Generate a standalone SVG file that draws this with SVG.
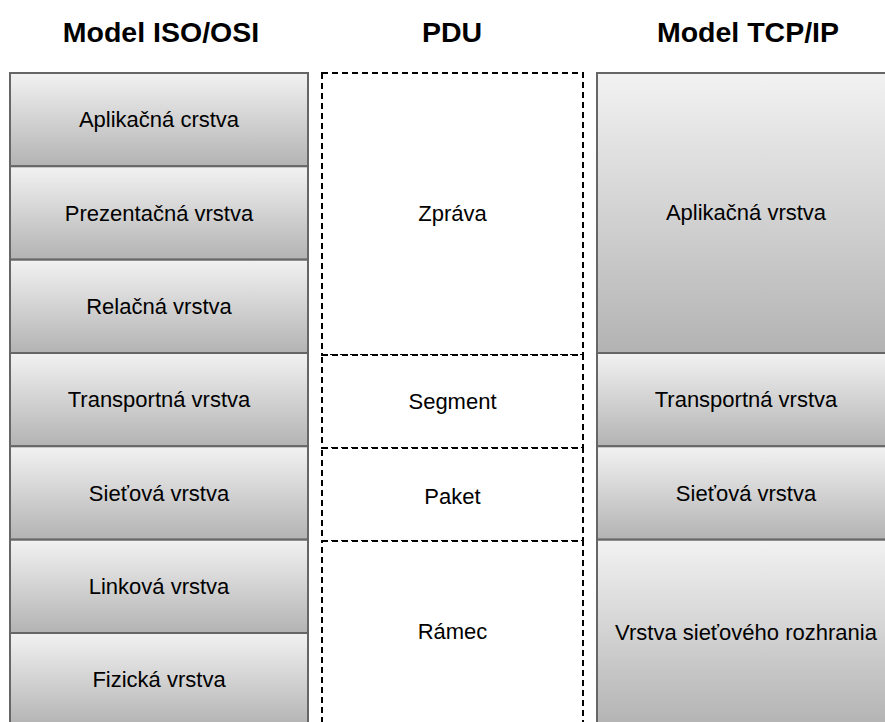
<svg xmlns="http://www.w3.org/2000/svg" width="885" height="722" viewBox="0 0 885 722">
<defs>
<linearGradient id="g" x1="0" y1="0" x2="0" y2="1">
<stop offset="0" stop-color="#f2f2f2"/>
<stop offset="1" stop-color="#b3b3b3"/>
</linearGradient>
<style>
.box{fill:url(#g);stroke:#666666;stroke-width:2}
.pdu{fill:#ffffff;stroke:#000000;stroke-width:2;stroke-dasharray:6 4}
.t{font-family:"Liberation Sans",Arial,Helvetica,sans-serif;font-size:22px;fill:#000;text-anchor:middle}
.h{font-family:"Liberation Sans",Arial,Helvetica,sans-serif;font-size:28.5px;font-weight:bold;fill:#000;text-anchor:middle}
</style>
</defs>
<rect width="885" height="722" fill="#ffffff"/>
<g id="headers">
<text class="h" x="161" y="42">Model ISO/OSI</text>
<text class="h" x="452" y="42">PDU</text>
<text class="h" x="748" y="42">Model TCP/IP</text>
</g>
<g id="osi-aplikacna"><rect class="box" x="10" y="73" width="298" height="93.3"/><text class="t" x="159" y="127">Aplikačná crstva</text></g>
<g id="osi-prezentacna"><rect class="box" x="10" y="166.3" width="298" height="93.3"/><text class="t" x="159" y="220.5">Prezentačná vrstva</text></g>
<g id="osi-relacna"><rect class="box" x="10" y="259.7" width="298" height="93.3"/><text class="t" x="159" y="314">Relačná vrstva</text></g>
<g id="osi-transportna"><rect class="box" x="10" y="353" width="298" height="93.3"/><text class="t" x="159" y="407">Transportná vrstva</text></g>
<g id="osi-sietova"><rect class="box" x="10" y="446.3" width="298" height="93.3"/><text class="t" x="159" y="500.5">Sieťová vrstva</text></g>
<g id="osi-linkova"><rect class="box" x="10" y="539.7" width="298" height="93.3"/><text class="t" x="159" y="594">Linková vrstva</text></g>
<g id="osi-fyzicka"><rect class="box" x="10" y="633" width="298" height="93.3"/><text class="t" x="159" y="687">Fizická vrstva</text></g>
<g id="pdu-zprava"><rect class="pdu" x="322" y="73" width="261" height="282"/><text class="t" x="452.5" y="221">Zpráva</text></g>
<g id="pdu-segment"><rect class="pdu" x="322" y="355" width="261" height="93"/><text class="t" x="452.5" y="409">Segment</text></g>
<g id="pdu-paket"><rect class="pdu" x="322" y="448" width="261" height="93"/><text class="t" x="452.5" y="504">Paket</text></g>
<g id="pdu-ramec"><rect class="pdu" x="322" y="541" width="261" height="190"/><text class="t" x="452.5" y="639">Rámec</text></g>
<g id="tcp-aplikacna"><rect class="box" x="597" y="73" width="298" height="280"/><text class="t" x="746" y="220">Aplikačná vrstva</text></g>
<g id="tcp-transportna"><rect class="box" x="597" y="353" width="298" height="93.3"/><text class="t" x="746" y="407">Transportná vrstva</text></g>
<g id="tcp-sietova"><rect class="box" x="597" y="446.3" width="298" height="93.3"/><text class="t" x="746" y="500.5">Sieťová vrstva</text></g>
<g id="tcp-rozhranie"><rect class="box" x="597" y="539.7" width="298" height="186.7"/><text class="t" x="746" y="640">Vrstva sieťového rozhrania</text></g>
<g id="connectors"/>
</svg>
